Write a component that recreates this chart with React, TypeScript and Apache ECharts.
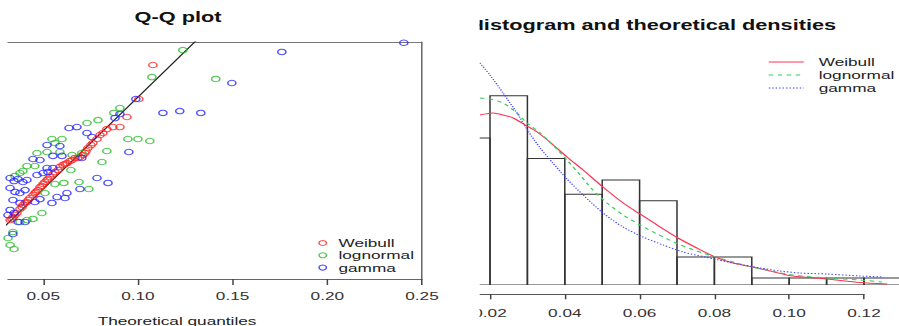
import React, { useEffect, useRef } from "react";
import * as echarts from "echarts";

// ---------- data ----------
const qqTicks = [0.05, 0.1, 0.15, 0.2, 0.25];
const histTicks = [0.02, 0.04, 0.06, 0.08, 0.1, 0.12];

// Q-Q plot: [theoretical quantile, empirical quantile]
const weibullQQ = [
  [0.1079, 0.1175], [0.1005, 0.099], [0.0942, 0.0892], [0.0905, 0.0837], [0.0868, 0.0837],
  [0.0836, 0.0826], [0.0815, 0.0805], [0.08, 0.0794], [0.0784, 0.0772], [0.0762, 0.075],
  [0.0752, 0.0739], [0.0736, 0.0723], [0.0726, 0.0707], [0.072, 0.0696], [0.071, 0.0685],
  [0.0694, 0.0674], [0.0683, 0.0669], [0.0668, 0.0669], [0.0652, 0.0658], [0.0641, 0.0652],
  [0.0625, 0.0641], [0.0615, 0.0636], [0.0604, 0.0631], [0.0588, 0.062], [0.0578, 0.0603],
  [0.0562, 0.0592], [0.0551, 0.0581], [0.0536, 0.0565], [0.0525, 0.0554], [0.052, 0.0549],
  [0.0509, 0.0538], [0.0499, 0.0527], [0.0493, 0.0516], [0.0483, 0.0511], [0.0472, 0.0494],
  [0.0462, 0.0484], [0.0456, 0.0478], [0.0446, 0.0467], [0.043, 0.0451], [0.042, 0.044],
  [0.0414, 0.0429], [0.0404, 0.0424], [0.0393, 0.0413], [0.0388, 0.0402], [0.0377, 0.0391],
  [0.0361, 0.0369], [0.0351, 0.0358], [0.034, 0.0347], [0.0335, 0.0337], [0.0325, 0.0331],
];
const lognormalQQ = [
  [0.1237, 0.1256], [0.1074, 0.1109], [0.1411, 0.1099], [0.0905, 0.0941], [0.0873, 0.0914],
  [0.0789, 0.0875], [0.0731, 0.0859], [0.0947, 0.0772], [0.1, 0.0772], [0.1063, 0.0761],
  [0.0546, 0.0772], [0.0599, 0.0772], [0.0562, 0.075], [0.0836, 0.0707], [0.0467, 0.0696],
  [0.052, 0.0701], [0.0588, 0.0701], [0.0652, 0.0685], [0.0704, 0.0696], [0.081, 0.0647],
  [0.0414, 0.0625], [0.0456, 0.0625], [0.0393, 0.0598], [0.0377, 0.0587], [0.0351, 0.0571],
  [0.0646, 0.0603], [0.0609, 0.0533], [0.0562, 0.0527], [0.0689, 0.0538], [0.0741, 0.05],
  [0.0509, 0.0478], [0.0493, 0.0369], [0.0446, 0.0337], [0.0414, 0.0331], [0.0377, 0.032],
  [0.034, 0.0266], [0.0314, 0.0233], [0.0325, 0.0195], [0.0346, 0.0173],
];
const gammaQQ = [
  [0.2404, 0.1296], [0.176, 0.1246], [0.1496, 0.1077], [0.0989, 0.099], [0.1132, 0.0914],
  [0.1221, 0.0924], [0.1332, 0.0914], [0.0905, 0.0908], [0.0879, 0.0886], [0.0636, 0.0832],
  [0.0678, 0.0837], [0.0731, 0.0805], [0.0757, 0.0783], [0.052, 0.0739], [0.0588, 0.0734],
  [0.0952, 0.0701], [0.0551, 0.068], [0.0599, 0.068], [0.0704, 0.0669], [0.0446, 0.0663],
  [0.0483, 0.0658], [0.0551, 0.0614], [0.052, 0.0614], [0.0525, 0.0592], [0.0499, 0.0587],
  [0.0467, 0.0576], [0.0325, 0.056], [0.0367, 0.0554], [0.0414, 0.0549], [0.0346, 0.0543],
  [0.0393, 0.0538], [0.0784, 0.056], [0.0842, 0.0533], [0.0325, 0.0505], [0.0404, 0.0494],
  [0.0351, 0.0484], [0.0377, 0.0478], [0.0694, 0.05], [0.0625, 0.0478], [0.0573, 0.0456],
  [0.0615, 0.0451], [0.0483, 0.0445], [0.034, 0.044], [0.0456, 0.0429], [0.0377, 0.0424],
  [0.0546, 0.0424], [0.0325, 0.0386], [0.0346, 0.0369], [0.0314, 0.0358], [0.0367, 0.032],
  [0.0404, 0.032], [0.034, 0.0255],
];

// Histogram
const binEdges = [0.01, 0.02, 0.03, 0.04, 0.05, 0.06, 0.07, 0.08, 0.09, 0.1, 0.11, 0.12, 0.13];
const histDensity = [17.8, 22.9, 15.3, 11.0, 12.7, 10.2, 3.39, 3.39, 0.85, 0.85, 0.85, 0.85];

// Theoretical densities: [x, density]
const weibullDensity = [
  [0.0173, 20.58], [0.0208, 20.82], [0.0235, 20.58], [0.0262, 20.22], [0.0294, 19.37],
  [0.0326, 18.52], [0.036, 17.31], [0.0406, 15.5], [0.0449, 13.92], [0.0502, 11.86],
  [0.0556, 9.93], [0.0601, 8.6], [0.0647, 7.26], [0.0703, 5.69], [0.0753, 4.48],
  [0.0802, 3.39], [0.085, 2.66], [0.0901, 2.18], [0.0949, 1.69], [0.101, 1.09],
  [0.1101, 0.73], [0.1189, 0.3], [0.1262, 0.12],
];
const lognormalDensity = [
  [0.0173, 22.64], [0.02, 22.52], [0.0235, 22.03], [0.0272, 20.82], [0.0299, 19.61],
  [0.0334, 18.4], [0.0368, 16.95], [0.0406, 15.13], [0.0441, 13.32], [0.0475, 11.5],
  [0.0513, 9.93], [0.0556, 8.47], [0.0601, 7.26], [0.0647, 6.17], [0.0703, 4.96],
  [0.0753, 4.12], [0.0802, 3.39], [0.085, 2.78], [0.0901, 2.18], [0.101, 1.21],
  [0.1101, 0.85], [0.1189, 0.61], [0.1248, 0.36],
];
const gammaDensity = [
  [0.0173, 26.88], [0.02, 25.42], [0.0235, 23.24], [0.0272, 20.82], [0.0302, 18.64],
  [0.0334, 16.59], [0.0368, 14.77], [0.0406, 12.83], [0.0449, 10.9], [0.0502, 8.72],
  [0.0556, 7.02], [0.0609, 5.81], [0.0663, 4.84], [0.0716, 4.0], [0.0775, 3.39],
  [0.085, 2.66], [0.0922, 2.06], [0.0975, 1.69], [0.1029, 1.45], [0.1101, 1.33],
  [0.1189, 1.09], [0.1251, 0.97],
];

// ---------- layout helpers ----------
const W = 600; // drawing width, stretched horizontally to 899px
const S = 899 / W;
const cx = (p: number) => p / S; // reference pixel x -> chart x

const FONT = "'Liberation Sans', Arial, Helvetica, sans-serif";
const RED = "#ff2020";
const GREEN = "#22bb22";
const BLUE = "#2222ff";

export default function App() {
  const ref = useRef<HTMLDivElement>(null);

  useEffect(() => {
    if (!ref.current) return;
    const chart = echarts.init(ref.current, null, { renderer: "svg" });

    const histData = histDensity.map((d, i) => [binEdges[i], binEdges[i + 1], d]);

    const scatter = (name: string, data: number[][], color: string) => ({
      name,
      type: "scatter",
      xAxisIndex: 0,
      yAxisIndex: 0,
      data,
      symbol: "circle",
      symbolSize: 5.5,
      clip: true,
      itemStyle: { color: "rgba(255,255,255,0)", borderColor: color, borderWidth: 1 },
      z: 3,
    });

    const curve = (name: string, data: number[][], color: string, type: any) => ({
      name,
      type: "line",
      xAxisIndex: 2,
      yAxisIndex: 1,
      data,
      symbol: "none",
      showSymbol: false,
      smooth: 0.25,
      clip: true,
      lineStyle: { color, width: 1, type },
      itemStyle: { color },
      z: 4,
    });

    const option: any = {
      animation: false,
      backgroundColor: "#fff",
      textStyle: { fontFamily: FONT },
      grid: [
        { left: cx(8), width: cx(422) - cx(8), top: 42, height: 279 - 42, containLabel: false },
        { left: cx(480), right: 0, top: 285 - 30 * 8.26, bottom: 326 - 285, containLabel: false },
        { left: cx(480), width: cx(864) - cx(480), top: 40, bottom: 326 - 294.3, containLabel: false },
      ],
      xAxis: [
        {
          gridIndex: 0,
          type: "value",
          min: 0.0314,
          max: 0.25,
          position: "bottom",
          splitLine: { show: false },
          axisLine: { show: true, lineStyle: { color: "#666", width: 1 } },
          axisTick: { show: true, customValues: qqTicks, length: 6, lineStyle: { color: "#444" } },
          axisLabel: {
            show: true,
            customValues: qqTicks,
            formatter: (v: number) => v.toFixed(2),
            margin: 11,
            fontSize: 11.5,
            color: "#333",
            fontFamily: FONT,
          },
        },
        {
          gridIndex: 0,
          type: "value",
          min: 0.0314,
          max: 0.25,
          position: "top",
          splitLine: { show: false },
          axisLine: { show: true, lineStyle: { color: "#777", width: 1 } },
          axisTick: { show: false },
          axisLabel: { show: false },
        },
        {
          gridIndex: 1,
          type: "value",
          min: 0.017326,
          max: 0.12936,
          show: false,
          splitLine: { show: false },
        },
        {
          gridIndex: 2,
          type: "value",
          min: 0.017326,
          max: 0.12,
          position: "bottom",
          splitLine: { show: false },
          axisLine: { show: true, lineStyle: { color: "#555", width: 1 } },
          axisTick: { show: true, customValues: histTicks, length: 5, lineStyle: { color: "#444" } },
          axisLabel: {
            show: true,
            customValues: histTicks,
            formatter: (v: number) => v.toFixed(2),
            margin: 12.5,
            fontSize: 11.5,
            color: "#333",
            fontFamily: FONT,
          },
        },
      ],
      yAxis: [
        {
          gridIndex: 0,
          type: "value",
          min: 0.001,
          max: 0.13,
          position: "right",
          splitLine: { show: false },
          axisLine: { show: true, lineStyle: { color: "#666", width: 1 } },
          axisTick: { show: false },
          axisLabel: { show: false },
        },
        { gridIndex: 1, type: "value", min: 0, max: 30, show: false, splitLine: { show: false } },
        { gridIndex: 2, type: "value", min: 0, max: 1, show: false, splitLine: { show: false } },
      ],
      legend: [
        {
          orient: "vertical",
          left: cx(322) - 2.5,
          top: 237,
          padding: 0,
          itemWidth: 5,
          itemHeight: 5,
          itemGap: 0.3,
          itemStyle: { borderWidth: 1 },
          data: ["Weibull", "lognormal", "gamma"],
          textStyle: { fontSize: 11.5, color: "#222", fontFamily: FONT, lineHeight: 12, padding: [0, 0, 0, 3] },
          selectedMode: false,
        },
        {
          orient: "vertical",
          left: cx(768),
          top: 55.5,
          padding: 0,
          itemWidth: cx(803) - cx(768),
          itemHeight: 9,
          itemGap: 0,
          itemStyle: { opacity: 0 },
          lineStyle: { width: 1 },
          data: ["Weibull density", "lognormal density", "gamma density"],
          formatter: (n: string) => n.replace(" density", ""),
          textStyle: { fontSize: 11.5, color: "#222", fontFamily: FONT, lineHeight: 13, padding: [0, 0, 0, 5] },
          selectedMode: false,
        },
      ],
      series: [
        {
          name: "y = x",
          type: "line",
          xAxisIndex: 0,
          yAxisIndex: 0,
          data: [
            [0.02, 0.02],
            [0.15, 0.15],
          ],
          symbol: "none",
          clip: true,
          lineStyle: { color: "#222", width: 1 },
          z: 2,
        },
        scatter("Weibull", weibullQQ, RED),
        scatter("lognormal", lognormalQQ, GREEN),
        scatter("gamma", gammaQQ, BLUE),
        {
          name: "histogram",
          type: "custom",
          xAxisIndex: 2,
          yAxisIndex: 1,
          data: histData,
          encode: { x: [0, 1], y: 2 },
          clip: true,
          renderItem: (params: any, api: any) => {
            const p0 = api.coord([api.value(0), api.value(2)]);
            const p1 = api.coord([api.value(1), 0]);
            return {
              type: "rect",
              shape: { x: p0[0], y: p0[1], width: p1[0] - p0[0], height: p1[1] - p0[1] },
              style: { fill: "none", stroke: "#333", lineWidth: 1 },
            };
          },
          z: 2,
        },
        curve("Weibull density", weibullDensity, "#ff3355", "solid"),
        curve("lognormal density", lognormalDensity, "#33cc55", [3, 3]),
        curve("gamma density", gammaDensity, "#4040ff", [1, 1.3]),
      ],
      graphic: [
        {
          type: "text",
          x: cx(178),
          y: 17.3,
          style: {
            text: "Q-Q plot",
            fontFamily: FONT,
            fontSize: 14.5,
            fontWeight: "bold",
            fill: "#111",
            align: "center",
            verticalAlign: "middle",
          },
        },
        {
          type: "text",
          x: 320 - 0.52 * 14.5,
          y: 25,
          style: {
            text: "Histogram and theoretical densities",
            fontFamily: FONT,
            fontSize: 14.5,
            fontWeight: "bold",
            fill: "#111",
            align: "left",
            verticalAlign: "middle",
          },
        },
        {
          type: "text",
          x: cx(177),
          y: 321,
          style: {
            text: "Theoretical quantiles",
            fontFamily: FONT,
            fontSize: 11.5,
            fill: "#222",
            align: "center",
            verticalAlign: "middle",
          },
        },
        {
          type: "rect",
          z: 100,
          shape: { x: cx(445), y: 0, width: 320 - cx(445), height: 326 },
          style: { fill: "#fff" },
        },
      ],
    };

    chart.setOption(option);
    return () => chart.dispose();
  }, []);

  return (
    <div
      ref={ref}
      style={{
        position: "fixed",
        left: 0,
        top: 0,
        width: W,
        height: 326,
        transform: `scaleX(${S})`,
        transformOrigin: "0 0",
        background: "#fff",
      }}
    />
  );
}
